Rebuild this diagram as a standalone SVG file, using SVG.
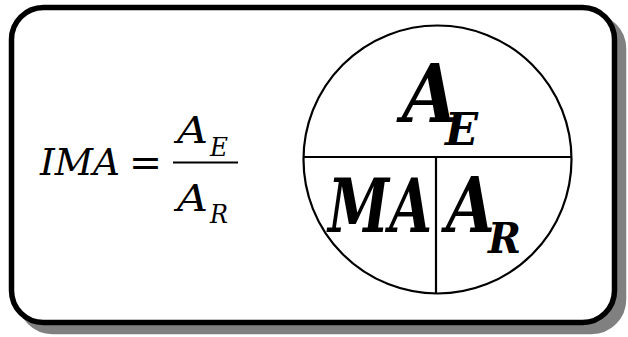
<svg xmlns="http://www.w3.org/2000/svg" width="628" height="337" viewBox="0 0 628 337">
<style>
text{font-family:'DejaVu Serif','Liberation Serif',serif;font-style:italic;fill:#000}
.b{font-weight:bold}
.n{font-style:normal}
.ln{stroke:#000;stroke-width:2.2;fill:none}
</style>
<rect width="628" height="337" fill="#fff"/>
<g id="frame">
<rect x="20.5" y="16.5" width="603" height="315" rx="32" fill="#808080" stroke="#808080" stroke-width="5.5"/>
<rect x="11.5" y="7.5" width="603" height="315" rx="32" fill="#fff" stroke="#000" stroke-width="5.5"/>
</g>
<g id="formula">
<text x="40" y="175" font-size="38" textLength="80" lengthAdjust="spacingAndGlyphs">IMA</text>
<text class="n" x="129" y="176" font-size="40" textLength="33" lengthAdjust="spacingAndGlyphs">=</text>
<line x1="173" y1="162.5" x2="238" y2="162.5" stroke="#000" stroke-width="2"/>
<text x="177" y="143" font-size="38" textLength="31" lengthAdjust="spacingAndGlyphs">A</text>
<text x="210" y="156" font-size="26" textLength="18" lengthAdjust="spacingAndGlyphs">E</text>
<text x="177" y="211" font-size="38" textLength="31" lengthAdjust="spacingAndGlyphs">A</text>
<text x="210" y="223" font-size="26" textLength="18" lengthAdjust="spacingAndGlyphs">R</text>
</g>
<g id="circle">
<circle class="ln" cx="437.5" cy="159.5" r="134"/>
<line class="ln" x1="304" y1="157" x2="571" y2="157"/>
<line class="ln" x1="436" y1="157" x2="436" y2="293.5"/>
</g>
<g id="ae">
<text class="b" x="402" y="122" font-size="81" textLength="56" lengthAdjust="spacingAndGlyphs">A</text>
<text class="b" x="445" y="145" font-size="45" textLength="33" lengthAdjust="spacingAndGlyphs">E</text>
</g>
<g id="ma">
<text class="b" x="328" y="232" font-size="75" textLength="104" lengthAdjust="spacingAndGlyphs">MA</text>
</g>
<g id="ar">
<text class="b" x="446" y="232" font-size="77" textLength="49" lengthAdjust="spacingAndGlyphs">A</text>
<text class="b" x="488" y="253" font-size="43" textLength="33" lengthAdjust="spacingAndGlyphs">R</text>
</g>
</svg>
